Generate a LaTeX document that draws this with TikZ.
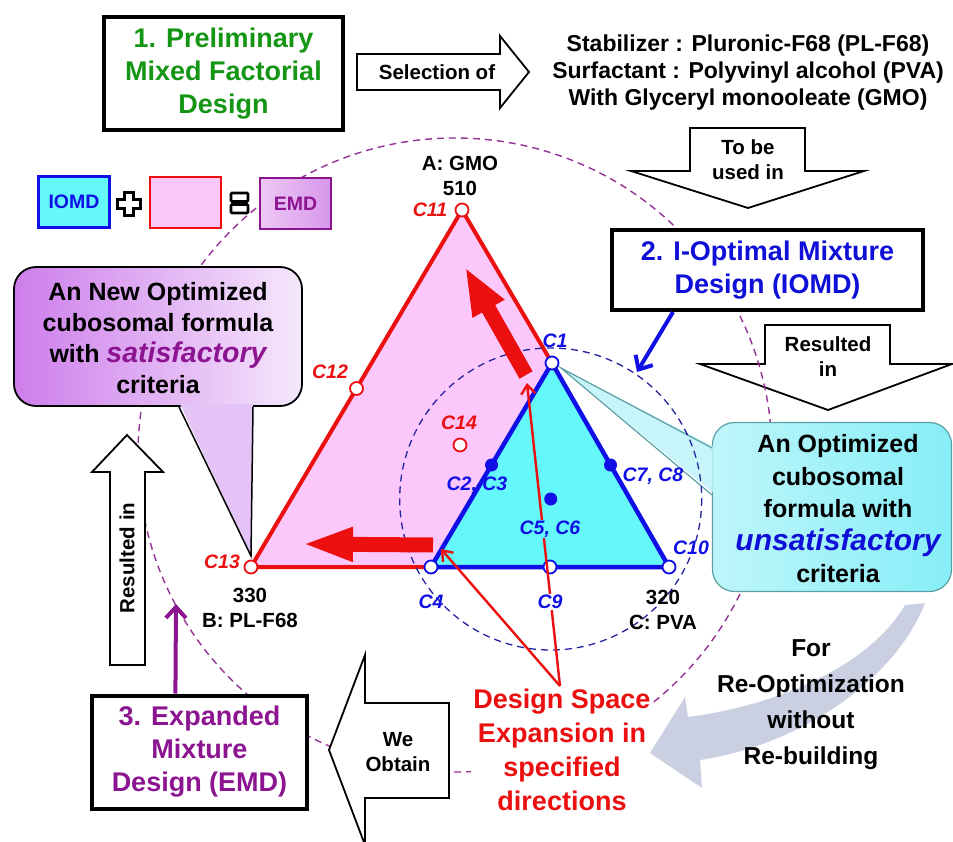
\documentclass[tikz,border=0pt]{standalone}
\usepackage{fontspec}
\setmainfont{Liberation Sans}
\usetikzlibrary{arrows.meta,calc}

\definecolor{dgreen}{RGB}{20,150,20}
\definecolor{dblue}{RGB}{15,15,215}
\definecolor{tblue}{RGB}{15,15,230}
\definecolor{tred}{RGB}{235,15,15}
\definecolor{pinkf}{RGB}{252,200,252}
\definecolor{cyanf}{RGB}{100,248,250}
\definecolor{purp}{RGB}{140,20,145}
\definecolor{ringp}{RGB}{150,50,150}
\definecolor{ringb}{RGB}{35,35,160}
\definecolor{grayarr}{RGB}{198,205,224}
\definecolor{calpL}{RGB}{205,125,235}
\definecolor{calpR}{RGB}{246,232,252}
\definecolor{calpW}{RGB}{228,195,246}
\definecolor{calcL}{RGB}{190,246,250}
\definecolor{calcR}{RGB}{135,238,248}
\definecolor{calcW}{RGB}{190,244,248}
\definecolor{calcB}{RGB}{90,160,165}
\definecolor{emdL}{RGB}{238,200,245}
\definecolor{emdR}{RGB}{215,150,235}

\begin{document}
\begin{tikzpicture}[x=1pt,y=-1pt,
  stagebox/.style={draw=black, line width=4pt, fill=white, align=center, inner sep=2pt,
                   font=\bfseries\fontsize{27}{33}\selectfont},
  blockarrow/.style={draw=black, line width=1.8pt, fill=white, line join=miter, miter limit=30},
  arrtext/.style={align=center, font=\bfseries\fontsize{20.5}{25}\selectfont},
  clab/.style={font=\bfseries\itshape\fontsize{19.5}{20}\selectfont, inner sep=1pt},
  vlab/.style={font=\bfseries\fontsize{20.5}{25}\selectfont, align=center},
  openpt/.style={circle, draw, line width=1.8pt, fill=white, minimum size=13pt, inner sep=0pt},
  dotpt/.style={circle, fill=tblue, minimum size=13pt, inner sep=0pt},
  legendbox/.style={minimum width=71pt, minimum height=51pt, line width=2.5pt,
                    font=\bfseries\fontsize{19.5}{20}\selectfont},
  thinred/.style={tred, line width=2.4pt, -{Straight Barb[length=9pt,width=14pt]}},
  fatred/.style={tred, line width=15pt},
]
\useasboundingbox (0,0) rectangle (953,842);
\fill[white] (0,0) rectangle (953,842);

% ---- "Resulted in" arrow on the right (lies under the ring)
\draw[blockarrow] (765,325) -- (890,325) -- (890,364) -- (952,364) -- (828,410) -- (700,364) -- (765,364) -- cycle;
\node[arrtext] (resR) at (828,357) {Resulted\\in};

% ---- large dashed ring
\draw[ringp, line width=1.4pt, dash pattern=on 7pt off 5pt] (455,455) circle (317);

% ---- red caption (white backing hides the ring)
\node[align=center, fill=white, inner sep=2pt, text=tred,
      font=\bfseries\fontsize{27}{34}\selectfont] (dse) at (562,750)
      {Design Space\\Expansion in\\specified\\directions};
\coordinate (dsetop) at (560,686);

% ---- legend
\node[legendbox, draw=tblue, fill=cyanf, text=tblue] (lgI) at (74,202) {IOMD};
\draw[black, line width=2.2pt, fill=white, shift={(129,204)}]
  (-4.5,-11.5) -- (4.5,-11.5) -- (4.5,-4.5) -- (11.5,-4.5) -- (11.5,4.5) -- (4.5,4.5) -- (4.5,11.5) -- (-4.5,11.5)
  -- (-4.5,4.5) -- (-11.5,4.5) -- (-11.5,-4.5) -- (-4.5,-4.5) -- cycle;
\node[legendbox, draw=tred, fill=pinkf] (lgP) at (185.5,202.5) {};
\draw[black, line width=2.8pt, fill=white, rounded corners=1pt] (231,193) rectangle (248,201.5);
\draw[black, line width=2.8pt, fill=white, rounded corners=1pt] (231,204.5) rectangle (248,213);
\node[legendbox, draw=purp, left color=emdL, right color=emdR, text=purp] (lgE) at (295.5,203.5) {EMD};

% ---- stage 1
\node[stagebox, text=dgreen, minimum width=239pt, minimum height=113pt] (pre) at (223.5,73.5)
  {1. Preliminary\\Mixed Factorial\\Design};
\draw[blockarrow] (357,54) -- (500,54) -- (500,36) -- (529,72) -- (500,108) -- (500,90) -- (357,90) -- cycle;
\node[arrtext] (sel) at (437,72) {Selection of};
\node[align=center, font=\bfseries\fontsize{23}{27}\selectfont] (comp) at (748,73)
  {Stabilizer : Pluronic-F68 (PL-F68)\\Surfactant : Polyvinyl alcohol (PVA)\\With Glyceryl monooleate (GMO)};
\draw[blockarrow] (690,128) -- (805,128) -- (805,171) -- (864,171) -- (748,208) -- (631,171) -- (690,171) -- cycle;
\node[arrtext] (tobe) at (748,160) {To be\\used in};

% ---- stage 2
\node[stagebox, text=dblue, minimum width=311pt, minimum height=80pt] (iomd) at (767.5,270)
  {2. I-Optimal Mixture\\Design (IOMD)};
\coordinate (iomdfoot) at ($(iomd.south west)!0.2!(iomd.south east)$);
\coordinate (iomdtip) at (637,372);
\draw[tblue, line width=4pt, -{Straight Barb[length=11pt,width=20pt]}] (iomdfoot) -- (iomdtip);

% ---- callout: satisfactory formula
\node[draw=black, line width=1.8pt, rounded corners=22pt, left color=calpL, right color=calpR,
      minimum width=288pt, minimum height=139pt] (newf) at (158,336.5) {};
\coordinate (newtip) at (251,556);
\fill[calpW] (180,404) -- (newtip) -- (253,404) -- cycle;
\draw[black, line width=1.5pt] (179,407) -- (newtip) -- (253,407);
\node[align=center, font=\bfseries\fontsize{25}{31}\selectfont] (newtxt) at (158,338)
  {An New Optimized\\cubosomal formula\\with {\color{purp}\itshape\fontsize{28.5}{31}\selectfont satisfactory}\\criteria};

% ---- "Resulted in" arrow on the left
\draw[blockarrow] (110,665) -- (110,472) -- (92,472) -- (127,435) -- (163,472) -- (145,472) -- (145,665) -- cycle;
\node[arrtext, rotate=90] (resL) at (127,558) {Resulted in};

% ---- stage 3
\node[stagebox, text=purp, minimum width=215pt, minimum height=113pt] (emd) at (199.5,752)
  {3. Expanded\\Mixture\\Design (EMD)};
\coordinate (emdfoot) at ($(emd.north west)!0.39!(emd.north east)$);
\coordinate (emdtip) at (176,604);
\draw[purp, line width=4pt, -{Straight Barb[length=11pt,width=20pt]}] (emdfoot) -- (emdtip);

% ---- "We Obtain" arrow
\draw[blockarrow] (449,703) -- (365,703) -- (365,655) -- (329,750) -- (365,845) -- (365,798) -- (449,798) -- cycle;
\node[arrtext] (obt) at (398,752) {We\\Obtain};

% ---- curved grey arrow and its caption
\fill[grayarr, opacity=0.92] (925,603) .. controls (895,680) and (800,745) .. (700,760)
  -- (702,788) -- (650,753) -- (685,697) -- (688,717)
  .. controls (780,705) and (870,665) .. (905,605) -- cycle;
\node[align=center, font=\bfseries\fontsize{24.5}{36}\selectfont] (reopt) at (811,705)
  {For\\Re-Optimization\\without\\Re-building};

% ---- callout: unsatisfactory formula
\node[draw=calcB, line width=1.2pt, rounded corners=22pt, left color=calcL, right color=calcR,
      minimum width=239pt, minimum height=169pt] (oldf) at (832,507) {};
\coordinate (oldtip) at (561,368);
\fill[calcW, opacity=0.85] (716,448) -- (oldtip) -- (716,495) -- cycle;
\draw[calcB, line width=1.2pt] (712,448) -- (oldtip) -- (712,495);
\node[align=center, font=\bfseries\fontsize{25}{32.5}\selectfont] (oldtxt) at (838,509)
  {An Optimized\\cubosomal\\formula with\\{\color{dblue}\itshape\fontsize{30}{32.5}\selectfont unsatisfactory}\\criteria};

% ---- mixture triangles
\coordinate (C11) at (462,210);
\coordinate (C13) at (251,567);
\coordinate (C12) at ($(C11)!0.5!(C13)$);
\coordinate (C1)  at (552,363);
\coordinate (C4)  at (431,567);
\coordinate (C10) at (669,567);
\coordinate (C2)  at ($(C1)!0.5!(C4)$);
\coordinate (C7)  at ($(C1)!0.5!(C10)$);
\coordinate (C9)  at ($(C4)!0.5!(C10)$);
\coordinate (C5)  at (550.7,499);
\coordinate (C14) at (460,445);

\fill[pinkf] (C11) -- (C13) -- (C4) -- (C1) -- cycle;
\draw[tred, line width=4pt, line join=round] (C1) -- (C11) -- (C13) -- (C4);
\draw[ringb, line width=1.3pt, dash pattern=on 7pt off 5pt] (C5) circle (151);
\draw[tblue, line width=4.5pt, fill=cyanf, line join=round] (C1) -- (C4) -- (C10) -- cycle;

% expansion arrows
\coordinate (upS) at (526,375);
\coordinate (upT) at (465,267);
\coordinate (lfS) at (433,545);
\coordinate (lfT) at (302,544);
\draw[fatred, -{Triangle[length=48pt,width=33pt]}] (upS) -- (upT);
\draw[fatred, -{Triangle[length=51pt,width=31pt]}] (lfS) -- (lfT);

% design points
\node[openpt, draw=tred] (p11) at (C11) {};
\node[openpt, draw=tred] (p12) at (C12) {};
\node[openpt, draw=tred] (p13) at (C13) {};
\node[openpt, draw=tred] (p14) at (C14) {};
\node[openpt, draw=tblue] (p1) at (C1) {};
\node[openpt, draw=tblue] (p4) at (C4) {};
\node[openpt, draw=tblue] (p9) at (C9) {};
\node[openpt, draw=tblue] (p10) at (C10) {};
\node[dotpt] (p2) at (C2) {};
\node[dotpt] (p7) at (C7) {};
\node[dotpt] (p5) at (C5) {};

% pointers from the red caption
\coordinate (upTail) at (527,383);
\coordinate (lfTail) at (441,549);
\draw[thinred] (dsetop) -- (upTail);
\draw[thinred] (dsetop) -- (lfTail);

% point labels
\node[clab, text=tred] (l11) at (430,210) {C11};
\node[clab, text=tred] (l12) at (330,372) {C12};
\node[clab, text=tred] (l13) at (222,562) {C13};
\node[clab, text=tred] (l14) at (459,423) {C14};
\node[clab, text=tblue] (l1) at (555,341) {C1};
\node[clab, text=tblue] (l2) at (477,485) {C2, C3};
\node[clab, text=tblue] (l7) at (653,476) {C7, C8};
\node[clab, text=tblue, fill=cyanf] (l5) at (550,529) {C5, C6};
\node[clab, text=tblue] (l4) at (431,602) {C4};
\node[clab, text=tblue, fill=white] (l9) at (550,602) {C9};
\node[clab, text=tblue] (l10) at (691,548) {C10};

% vertex labels
\node[vlab] (vA) at (460,175.5) {A: GMO\\510};
\node[vlab] (vB) at (250,607.5) {330\\B: PL-F68};
\node[vlab] (vC) at (663,609.5) {320\\C: PVA};
\end{tikzpicture}
\end{document}
